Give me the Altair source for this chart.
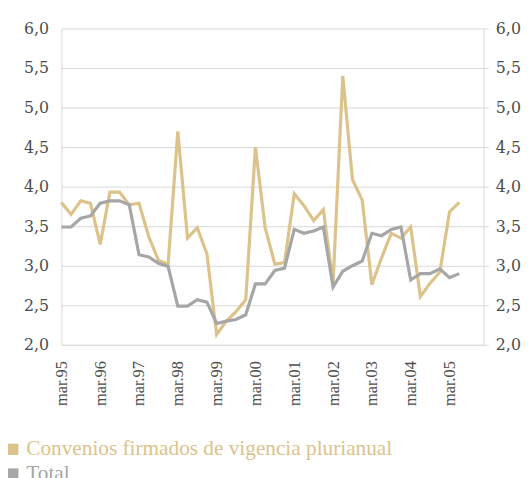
import altair as alt
import pandas as pd

tick_labels = ["mar.95", "mar.96", "mar.97", "mar.98", "mar.99", "mar.00",
               "mar.01", "mar.02", "mar.03", "mar.04", "mar.05"]
series_names = ["Convenios firmados de vigencia plurianual", "Total"]

convenios = [3.80, 3.65, 3.82, 3.79, 3.27, 3.93, 3.93, 3.77, 3.79, 3.37, 3.07, 3.02,
             4.70, 3.35, 3.48, 3.15, 2.13, 2.30, 2.42, 2.57, 4.50, 3.48, 3.02, 3.04,
             3.91, 3.76, 3.57, 3.71, 2.78, 5.40, 4.09, 3.83, 2.76, 3.10, 3.41, 3.35,
             3.49, 2.61, 2.78, 2.92, 3.68, 3.80]
total = [3.49, 3.49, 3.60, 3.63, 3.79, 3.82, 3.82, 3.77, 3.14, 3.11, 3.03, 2.99,
         2.49, 2.49, 2.57, 2.54, 2.27, 2.30, 2.32, 2.38, 2.77, 2.77, 2.94, 2.97,
         3.46, 3.41, 3.44, 3.49, 2.73, 2.93, 3.00, 3.06, 3.41, 3.38, 3.46, 3.49,
         2.82, 2.90, 2.90, 2.96, 2.85, 2.90]

GOLD = "#dcc38b"
GRAY = "#a6a6a6"
FONT = "Liberation Serif"
YFONT = "DejaVu Serif"
TEXT = "#4d4d4d"
GRID = "#d9d9d9"

rows = []
for i, (a, b) in enumerate(zip(convenios, total)):
    rows.append({"q": i, "serie": series_names[0], "valor": a})
    rows.append({"q": i, "serie": series_names[1], "valor": b})
df = pd.DataFrame(rows)

label_arr = "[" + ",".join(f"'{t}'" for t in tick_labels) + "]"
yfmt = "replace(format(datum.value, '.1f'), '.', ',')"
yvals = [2, 2.5, 3, 3.5, 4, 4.5, 5, 5.5, 6]

x = alt.X("q:Q", title=None,
          scale=alt.Scale(domain=[0, 43.5], nice=False, zero=False),
          axis=alt.Axis(values=list(range(0, 41, 4)),
                        labelExpr=f"{label_arr}[round(datum.value/4)]",
                        labelAngle=270, labelFont=FONT, labelFontSize=16.5,
                        labelColor=TEXT, labelPadding=16, ticks=False,
                        domainColor=GRID, grid=False))

yscale = alt.Scale(domain=[2, 6], nice=False, zero=False)
color_expr = {"expr": f"datum.label == 'Total' ? '{GRAY}' : '{GOLD}'"}

left = alt.Chart(df).mark_line(strokeWidth=3.2).encode(
    x=x,
    y=alt.Y("valor:Q", title=None, scale=yscale,
            axis=alt.Axis(orient="left", values=yvals,
                          labelExpr=yfmt, labelFont=YFONT, labelFontSize=16,
                          labelColor=TEXT, labelPadding=13, ticks=False,
                          domainColor=GRID, grid=True, gridColor=GRID)),
    color=alt.Color("serie:N",
                    scale=alt.Scale(domain=series_names, range=[GOLD, GRAY]),
                    legend=alt.Legend(title=None, orient="none", legendX=-60, legendY=415,
                                      direction="vertical", labelFont=FONT,
                                      labelFontSize=21.5, labelLimit=0,
                                      labelColor=color_expr,
                                      symbolType="square", symbolSize=132,
                                      symbolFillColor=color_expr,
                                      symbolStrokeWidth=0, rowPadding=2, labelOffset=3)),
)

right = alt.Chart(df).mark_line(opacity=0).encode(
    x=x,
    y=alt.Y("valor:Q", title=None, scale=yscale,
            axis=alt.Axis(orient="right", values=yvals,
                          labelExpr=yfmt, labelFont=YFONT, labelFontSize=16,
                          labelColor=TEXT, labelPadding=7, ticks=True, tickSize=5,
                          tickColor=GRID, domainColor=GRID, grid=False)),
    detail="serie:N",
)

chart = alt.layer(left, right).resolve_scale(y="shared").resolve_axis(y="independent").properties(
    width=427, height=320,
    autosize=alt.AutoSizeParams(type="none"),
    padding={"left": 54, "top": 18, "right": 40, "bottom": 132},
).configure_view(stroke=None)

chart.save("out.html", embed_options={"renderer": "svg", "actions": False})
